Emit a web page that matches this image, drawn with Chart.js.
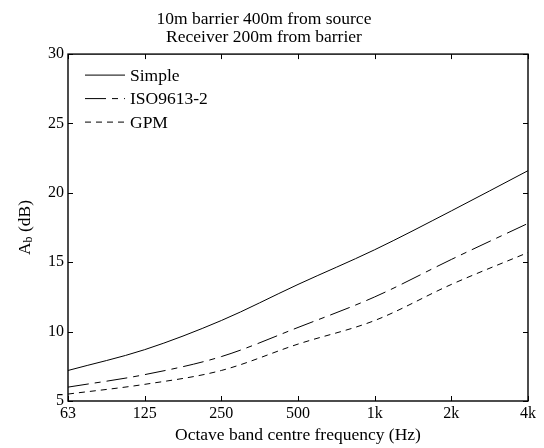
<!DOCTYPE html>
<html>
<head>
<meta charset="utf-8">
<script src="https://cdn.jsdelivr.net/npm/chart.js@4/dist/chart.umd.min.js"></script>
<style>
  html, body { margin: 0; padding: 0; background: #fff; }
  canvas { display: block; }
</style>
</head>
<body>
<canvas id="c" width="544" height="448"></canvas>
<script>
const freqLabels = ['63', '125', '250', '500', '1k', '2k', '4k']
const simple = [7.2, 8.7, 10.8, 13.4, 15.9, 18.7, 21.6]
const iso9613 = [6.0, 6.9, 8.2, 10.3, 12.5, 15.2, 17.8]
const gpm = [5.5, 6.2, 7.2, 9.1, 10.8, 13.4, 15.7]
const yTicks = [5, 10, 15, 20, 25, 30]

const FONT = 'Liberation Serif, Times New Roman, serif'

// box round the plot, inward ticks, legend inside, y title with subscript
const matlabLook = {
    id: 'matlabLook',
    afterDraw(chart) {
        const { ctx, chartArea: a, scales: { x, y } } = chart
        ctx.save()
        ctx.strokeStyle = '#000'
        ctx.lineWidth = 1.4
        ctx.strokeRect(a.left, a.top, a.right - a.left, a.bottom - a.top)
        ctx.lineWidth = 1
        ctx.beginPath()
        freqLabels.forEach((_, i) => {
            const px = Math.round(x.getPixelForValue(i)) + 0.5
            ctx.moveTo(px, a.bottom); ctx.lineTo(px, a.bottom - 5)
            ctx.moveTo(px, a.top); ctx.lineTo(px, a.top + 5)
        })
        yTicks.forEach(v => {
            const py = Math.round(y.getPixelForValue(v)) + 0.5
            ctx.moveTo(a.left, py); ctx.lineTo(a.left + 5, py)
            ctx.moveTo(a.right, py); ctx.lineTo(a.right - 5, py)
        })
        ctx.stroke()

        // legend
        ctx.font = '17.5px ' + FONT
        ctx.fillStyle = '#000'
        ctx.textBaseline = 'middle'
        chart.data.datasets.forEach((ds, i) => {
            const ly = a.top + 21 + i * 23.5
            ctx.beginPath()
            ctx.setLineDash(ds.borderDash || [])
            ctx.moveTo(a.left + 17, ly)
            ctx.lineTo(a.left + 57, ly)
            ctx.stroke()
            ctx.setLineDash([])
            ctx.fillText(ds.label, a.left + 62, ly + 1)
        })

        // y axis title: A_b (dB)
        ctx.translate(25, (a.top + a.bottom) / 2)
        ctx.rotate(-Math.PI / 2)
        ctx.textBaseline = 'middle'
        const pieces = [['A', 17.5, 0], ['b', 12, 4], [' (dB)', 17.5, 0]]
        let w = 0
        pieces.forEach(p => { ctx.font = p[1] + 'px ' + FONT; w += ctx.measureText(p[0]).width })
        let cx = -w / 2
        pieces.forEach(p => {
            ctx.font = p[1] + 'px ' + FONT
            ctx.fillText(p[0], cx, p[2])
            cx += ctx.measureText(p[0]).width
        })
        ctx.restore()
    }
}

new Chart(document.getElementById('c'), {
    type: 'line',
    data: {
        labels: freqLabels,
        datasets: [
            { label: 'Simple', data: simple, borderDash: [] },
            { label: 'ISO9613-2', data: iso9613, borderDash: [21, 6, 6, 6] },
            { label: 'GPM', data: gpm, borderDash: [6, 5] }
        ].map(d => Object.assign(d, {
            borderColor: '#000',
            borderWidth: 1,
            pointRadius: 0,
            cubicInterpolationMode: 'monotone'
        }))
    },
    options: {
        responsive: false,
        animation: false,
        layout: { padding: { right: 16, left: 0, top: 0, bottom: 0 } },
        plugins: {
            legend: { display: false },
            tooltip: { enabled: false },
            title: {
                display: true,
                text: ['10m barrier 400m from source', 'Receiver 200m from barrier'],
                color: '#000',
                font: { family: FONT, size: 17.5, weight: 'normal', lineHeight: 1.06 },
                padding: { top: 10, bottom: 7 }
            }
        },
        scales: {
            x: {
                type: 'category',
                offset: false,
                grid: { display: false, drawTicks: false, offset: false },
                border: { display: false },
                ticks: { color: '#000', font: { family: FONT, size: 16 }, padding: 3, maxRotation: 0, autoSkip: false },
                title: {
                    display: true,
                    text: 'Octave band centre frequency (Hz)',
                    color: '#000',
                    font: { family: FONT, size: 17.5, lineHeight: 1.1 },
                    padding: { top: 0, bottom: 3 }
                },
                afterFit(scale) { scale.height = 47 }
            },
            y: {
                min: 5,
                max: 30,
                grid: { display: false, drawTicks: false },
                border: { display: false },
                ticks: { stepSize: 5, color: '#000', font: { family: FONT, size: 16 }, padding: 4 },
                afterFit(scale) { scale.width = 68 }
            }
        }
    },
    plugins: [matlabLook]
})
</script>
</body>
</html>
